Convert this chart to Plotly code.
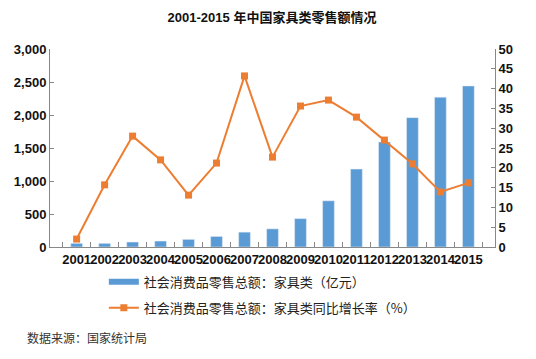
import plotly.graph_objects as go

years = ["2001", "2002", "2003", "2004", "2005", "2006", "2007", "2008",
         "2009", "2010", "2011", "2012", "2013", "2014", "2015"]
sales = [55, 55, 75, 90, 115, 160, 225, 275, 430, 700, 1180, 1590, 1960, 2270, 2440]
growth = [2.0, 15.7, 28.0, 22.0, 13.1, 21.2, 43.2, 22.7, 35.6, 37.1, 32.8, 27.0, 21.0, 13.9, 16.2]
left_ticks = [0, 500, 1000, 1500, 2000, 2500, 3000]
right_ticks = [0, 5, 10, 15, 20, 25, 30, 35, 40, 45, 50]

FONT = "Liberation Sans, Arial, Noto Sans CJK SC, sans-serif"
CJK = "Noto Sans CJK SC, sans-serif"
BAR_NAME = "社会消费品零售总额：家具类（亿元）"
LINE_NAME = "社会消费品零售总额：家具类同比增长率（%）"

fig = go.Figure()
fig.add_trace(go.Bar(
    x=years, y=sales, name=BAR_NAME,
    marker=dict(color="#5B9BD5"), width=0.42, yaxis="y",
    showlegend=False,
))
# legend-only entry to get the flat bar-style swatch
fig.add_trace(go.Scatter(
    x=[None], y=[None], name=BAR_NAME, mode="lines",
    line=dict(color="#5B9BD5", width=6), legendgroup="a",
))
fig.add_trace(go.Scatter(
    x=years, y=growth, name=LINE_NAME,
    mode="lines+markers", line=dict(color="#ED7D31", width=2),
    marker=dict(symbol="square", size=7, color="#ED7D31"), yaxis="y2",
    legendgroup="b",
))

fig.update_layout(
    width=528, height=351,
    margin=dict(l=42, r=41, t=41, b=112, autoexpand=False),
    paper_bgcolor="white", plot_bgcolor="white",
    title=dict(text="<b>2001-2015 年中国家具类零售额情况</b>", x=0.5, xanchor="center",
               y=0.972, yanchor="middle", font=dict(family=FONT, size=13, color="#111")),
    xaxis=dict(type="category", showline=True, linecolor="#888", linewidth=1,
               ticks="inside", ticklen=5, tickcolor="#888", tickson="boundaries",
               showgrid=False, tickangle=0, automargin=False,
               tickfont=dict(family=FONT, size=13, color="#111", weight="bold")),
    yaxis=dict(range=[0, 3000], tickvals=left_ticks, tickformat=",d",
               showline=True, linecolor="#888", linewidth=1, ticks="inside", ticklen=4,
               tickcolor="#888", showgrid=False, zeroline=False, automargin=False,
               tickfont=dict(family=FONT, size=13, color="#111", weight="bold")),
    yaxis2=dict(range=[0, 50], tickvals=right_ticks, overlaying="y", side="right",
                showline=True, linecolor="#888", linewidth=1, ticks="inside", ticklen=4,
                tickcolor="#888", showgrid=False, zeroline=False, automargin=False,
                tickfont=dict(family=FONT, size=13, color="#111", weight="bold")),
    legend=dict(orientation="v", x=0.121, xanchor="left", y=-0.1, yanchor="top",
                traceorder="grouped", tracegroupgap=6, itemwidth=30,
                font=dict(family=CJK, size=13, color="#222"), bgcolor="rgba(0,0,0,0)"),
    bargap=0.5,
    showlegend=True,
)
fig.add_annotation(text="数据来源：国家统计局", xref="paper", yref="paper",
                   x=-0.056, y=-0.455, xanchor="left", yanchor="middle", showarrow=False,
                   font=dict(family=CJK, size=12, color="#333"))

fig.write_html("out.html")
